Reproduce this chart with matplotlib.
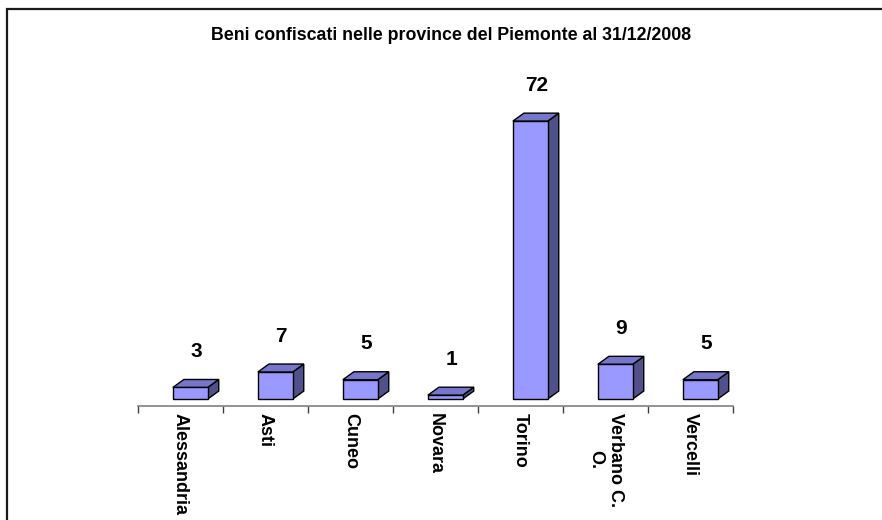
import matplotlib
matplotlib.use("Agg")
import matplotlib.pyplot as plt
from matplotlib.patches import Polygon, Rectangle
import numpy as np

plt.rcParams['font.family'] = ['Liberation Sans', 'DejaVu Sans']

title = "Beni confiscati nelle province del Piemonte al 31/12/2008"
categories = ["Alessandria", "Asti", "Cuneo", "Novara", "Torino", "Verbano C.\nO.", "Vercelli"]
values = [3, 7, 5, 1, 72, 9, 5]

W, H = 882, 520
fig = plt.figure(figsize=(W / 100, H / 100), dpi=100)

# outer frame (only top/left visible)
fig.add_artist(Rectangle((7 / W, -0.05), 1.2, 1 - 9 / H + 0.05, transform=fig.transFigure,
                         fill=False, edgecolor='#1a1a1a', linewidth=1.6))

fig.text(451 / W, 1 - 36 / H, title, ha='center', va='center', fontsize=12.8, fontweight='bold')

ymin, ymax = -1.8, 88
ax_left, ax_w = 138 / W, 595 / W
ax_bottom = (H - 406) / H
ax_h = (ymax - ymin) * 3.86 / H
ax = fig.add_axes([ax_left, ax_bottom, ax_w, ax_h])
ax.set_xlim(-0.5, len(categories) - 0.5)
ax.set_ylim(ymin, ymax)
ax.patch.set_alpha(0)

front_c, top_c, side_c = '#9999FF', '#7676CC', '#50508A'
x0, x1 = -0.09, 0.32    # front face relative to category center
ddx, ddy = 0.13, 2.07   # depth offset
for i, v in enumerate(values):
    a, b = i + x0, i + x1
    front = Polygon([(a, 0), (b, 0), (b, v), (a, v)], closed=True,
                    facecolor=front_c, edgecolor='black', linewidth=1.0, zorder=3)
    top = Polygon([(a, v), (b, v), (b + ddx, v + ddy), (a + ddx, v + ddy)], closed=True,
                  facecolor=top_c, edgecolor='black', linewidth=1.0, zorder=3)
    side = Polygon([(b, 0), (b + ddx, ddy), (b + ddx, v + ddy), (b, v)], closed=True,
                   facecolor=side_c, edgecolor='black', linewidth=1.0, zorder=3)
    for p in (side, top, front):
        ax.add_patch(p)
    ax.text(i + 0.185, v + 9.3, str(v), ha='center', va='center', fontsize=15, fontweight='bold')

for s in ('top', 'right', 'left'):
    ax.spines[s].set_visible(False)
ax.spines['bottom'].set_color('#808080')
ax.spines['bottom'].set_linewidth(1.2)
ax.set_yticks([])
ax.set_xticks(range(len(categories)))
ax.set_xticklabels(categories, rotation=270, fontsize=13, fontweight='bold', va='top', ha='center')
ax.tick_params(axis='x', which='major', length=0, pad=5)
ax.set_xticks(np.arange(-0.5, len(categories), 1.0), minor=True)
ax.tick_params(axis='x', which='minor', length=5, direction='out', color='#404040', width=1.0)

fig.savefig("out.png", dpi=100)
